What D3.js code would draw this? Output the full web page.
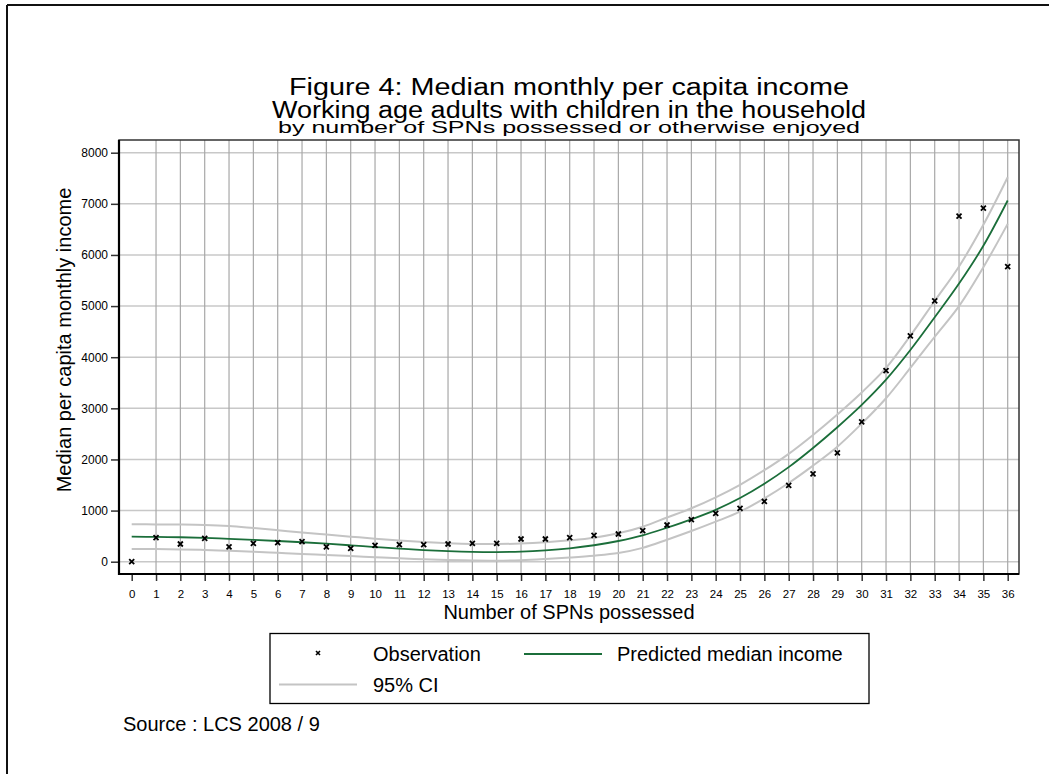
<!DOCTYPE html>
<html>
<head>
<meta charset="utf-8">
<script src="https://cdn.jsdelivr.net/npm/d3@7"></script>
<style>
  html, body { margin: 0; padding: 0; background: #fff; }
  svg { display: block; font-family: "Liberation Sans", Arial, sans-serif; }
</style>
</head>
<body>
<svg id="chart" width="1049" height="774"></svg>
<script>
// Number of SPNs possessed (x categories)
const spnCounts = [0,1,2,3,4,5,6,7,8,9,10,11,12,13,14,15,16,17,18,19,20,21,22,23,24,25,26,27,28,29,30,31,32,33,34,35,36];

// Observed median monthly per capita income
const observed = [0,470,346,458,288,360,372,392,288,262,320,333,333,346,360,360,444,444,470,516,542,607,718,822,947,1045,1178,1495,1716,2127,2734,3738,4417,5102,6760,6916,5773];

// Fitted median income and its 95% confidence band
const predicted = [489,485,478,465,448,428,405,380,352,320,287,255,228,207,193,189,197,222,262,322,405,515,665,829,1015,1245,1525,1850,2225,2630,3066,3560,4140,4780,5440,6180,7065];
const upperCI = [731,730,728,720,698,658,615,570,530,490,450,413,383,361,347,345,355,380,418,470,555,685,865,1045,1260,1505,1790,2110,2480,2880,3310,3790,4420,5100,5775,6590,7520];
const lowerCI = [248,246,240,229,212,196,173,150,130,111,88,66,48,33,24,20,30,53,82,118,170,270,430,600,783,979,1240,1540,1880,2250,2700,3197,3790,4400,5000,5760,6608];

const yTicks = [0,1000,2000,3000,4000,5000,6000,7000,8000];

const titleLines = [
  "Figure 4: Median monthly per capita income",
  "Working age adults with children in the household"
];
const subtitle = "by number of SPNs possessed or otherwise enjoyed";
const xTitle = "Number of SPNs possessed";
const yTitle = "Median per capita monthly income";
const sourceNote = "Source : LCS 2008 / 9";

const svg = d3.select("#chart");
const plot = { left: 119, right: 1019, top: 140, bottom: 574 };

const x = d3.scaleLinear().domain([0, 36]).range([131.7, 1007.7]);
const y = d3.scaleLinear().domain([0, 8000]).range([561.7, 152.7]);

// outer frame (top and left edges)
svg.append("line").attr("x1", 7).attr("x2", 1049).attr("y1", 5).attr("y2", 5)
  .attr("stroke", "#111").attr("stroke-width", 2);
svg.append("line").attr("x1", 7).attr("x2", 7).attr("y1", 5).attr("y2", 774)
  .attr("stroke", "#111").attr("stroke-width", 2);

// titles, set wide and compact
const tl = svg.append("g").attr("text-anchor", "middle").attr("fill", "#000");
tl.append("text").attr("x", 569).attr("y", 95).attr("font-size", 23)
  .attr("textLength", 560).attr("lengthAdjust", "spacingAndGlyphs").text(titleLines[0]);
tl.append("text").attr("x", 569).attr("y", 118).attr("font-size", 23)
  .attr("textLength", 594).attr("lengthAdjust", "spacingAndGlyphs").text(titleLines[1]);
tl.append("text").attr("x", 569).attr("y", 133).attr("font-size", 16.5)
  .attr("textLength", 582).attr("lengthAdjust", "spacingAndGlyphs").text(subtitle);

// grid
const grid = svg.append("g");
grid.selectAll("line.h").data(yTicks).join("line")
  .attr("x1", plot.left).attr("x2", plot.right)
  .attr("y1", d => y(d)).attr("y2", d => y(d))
  .attr("stroke", "#c8c8c8").attr("stroke-width", 1.5);
grid.selectAll("line.v").data(spnCounts.filter(d => d > 0)).join("line")
  .attr("x1", d => x(d)).attr("x2", d => x(d))
  .attr("y1", plot.top).attr("y2", plot.bottom)
  .attr("stroke", "#a8a8a8").attr("stroke-width", 1.2);

// plot border
svg.append("rect").attr("x", plot.left).attr("y", plot.top)
  .attr("width", plot.right - plot.left).attr("height", plot.bottom - plot.top)
  .attr("fill", "none").attr("stroke", "#333").attr("stroke-width", 1.5);

// axes
const yAxis = d3.axisLeft(y).tickValues(yTicks).tickSize(8).tickPadding(3).tickFormat(d3.format("d"));
const gy = svg.append("g").attr("transform", `translate(${plot.left},0)`).call(yAxis);
gy.select(".domain").remove();
gy.selectAll(".tick line").attr("stroke", "#333").attr("stroke-width", 1.5);
gy.selectAll(".tick text").attr("font-size", 12).attr("fill", "#000")
  .attr("font-family", "Liberation Sans, Arial, sans-serif");

const xAxis = d3.axisBottom(x).tickValues(spnCounts).tickSize(7).tickPadding(9).tickFormat(d3.format("d"));
const gx = svg.append("g").attr("transform", `translate(0,${plot.bottom})`).call(xAxis);
gx.select(".domain").remove();
gx.selectAll(".tick line").attr("stroke", "#333").attr("stroke-width", 1.5);
gx.selectAll(".tick text").attr("font-size", 11.5).attr("fill", "#000")
  .attr("font-family", "Liberation Sans, Arial, sans-serif");

// heavier left and bottom axis lines
svg.append("line").attr("x1", plot.left).attr("x2", plot.left).attr("y1", plot.top).attr("y2", plot.bottom + 1)
  .attr("stroke", "#000").attr("stroke-width", 2.2);
svg.append("line").attr("x1", plot.left - 1).attr("x2", plot.right).attr("y1", plot.bottom).attr("y2", plot.bottom)
  .attr("stroke", "#000").attr("stroke-width", 2.2);

// axis titles
svg.append("text").attr("x", 569).attr("y", 619).attr("text-anchor", "middle")
  .attr("font-size", 20).text(xTitle);
svg.append("text").attr("transform", "translate(71,340) rotate(-90)").attr("text-anchor", "middle")
  .attr("font-size", 20).text(yTitle);

// curves
const line = d3.line().x((d, i) => x(spnCounts[i])).y(d => y(d)).curve(d3.curveCatmullRom);
[upperCI, lowerCI].forEach(s => {
  svg.append("path").attr("d", line(s)).attr("fill", "none")
    .attr("stroke", "#c4c4c4").attr("stroke-width", 2);
});
svg.append("path").attr("d", line(predicted)).attr("fill", "none")
  .attr("stroke", "#1b6e3a").attr("stroke-width", 1.8);

// observation markers
const cross = s => `M${-s},${-s}L${s},${s}M${-s},${s}L${s},${-s}`;
svg.append("g").selectAll("path").data(observed).join("path")
  .attr("transform", (d, i) => `translate(${x(spnCounts[i])},${y(d)})`)
  .attr("d", cross(2.5)).attr("stroke", "#000").attr("stroke-width", 1.8).attr("fill", "none");

// legend
const lg = svg.append("g");
lg.append("rect").attr("x", 270).attr("y", 633.5).attr("width", 599).attr("height", 70)
  .attr("fill", "#fff").attr("stroke", "#000").attr("stroke-width", 1.3);
lg.append("path").attr("transform", "translate(318,653)").attr("d", cross(2))
  .attr("stroke", "#000").attr("stroke-width", 1.6);
lg.append("text").attr("x", 373).attr("y", 661).attr("font-size", 20).text("Observation");
lg.append("line").attr("x1", 524).attr("x2", 602).attr("y1", 654).attr("y2", 654)
  .attr("stroke", "#1b6e3a").attr("stroke-width", 1.8);
lg.append("text").attr("x", 617).attr("y", 661).attr("font-size", 20).text("Predicted median income");
lg.append("line").attr("x1", 279).attr("x2", 357).attr("y1", 684.5).attr("y2", 684.5)
  .attr("stroke", "#c4c4c4").attr("stroke-width", 2);
lg.append("text").attr("x", 373).attr("y", 692).attr("font-size", 20).text("95% CI");

// source note
svg.append("text").attr("x", 123).attr("y", 731).attr("font-size", 20).text(sourceNote);
</script>
</body>
</html>
